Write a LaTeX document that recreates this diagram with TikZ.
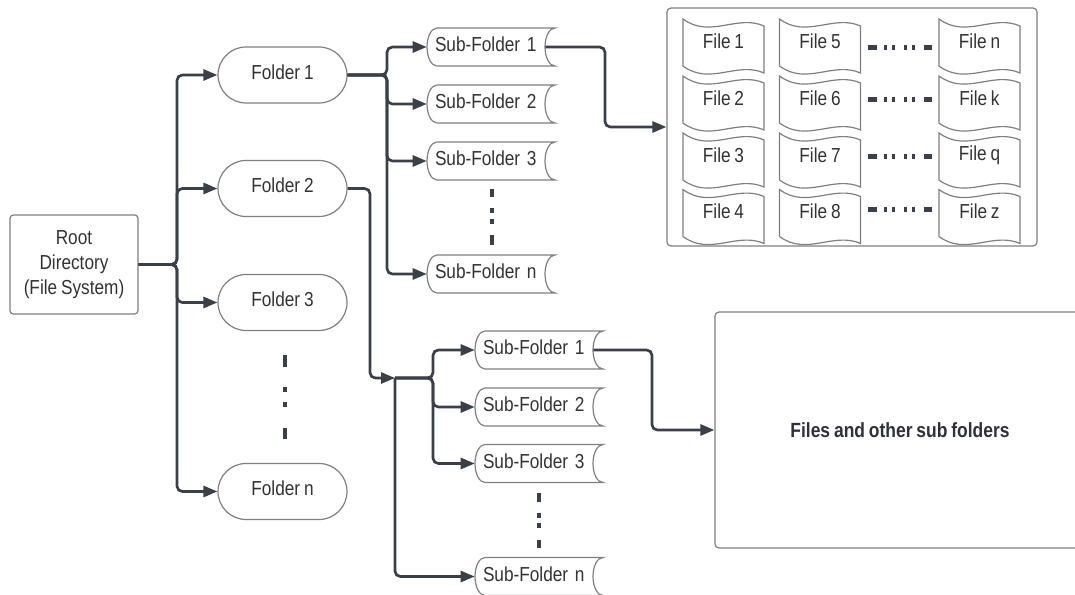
\documentclass[tikz,border=0pt]{standalone}
\usepackage{fontspec}
\setmainfont[FakeStretch=0.85,WordSpace=0.8]{Liberation Sans}
\usetikzlibrary{shapes.misc,arrows.meta,calc}
\definecolor{conn}{RGB}{58,64,74}
\definecolor{shp}{RGB}{128,128,128}
\definecolor{txt}{RGB}{51,51,51}
\definecolor{boldtxt}{RGB}{45,50,58}
\tikzset{
 shapeline/.style={draw=shp, line width=0.9pt},
 conline/.style={draw=conn, line width=2pt, rounded corners=4pt},
 arr/.style={conline, -{Triangle[length=10.5pt,width=8.25pt]}},
 folder/.style={rounded rectangle, shapeline, minimum width=96.75pt, minimum height=42pt, inner sep=0pt, text depth=4.5pt},
 rootbox/.style={rectangle, rounded corners=2.5pt, shapeline, minimum width=96pt, minimum height=74.25pt, align=center, inner sep=0pt},
 subf/.style={rectangle, inner xsep=6pt, inner ysep=0pt, text width=84pt, minimum height=28.5pt, align=left, text depth=4pt},
 filen/.style={rectangle, inner sep=0pt, minimum width=60.75pt, minimum height=35.25pt},
 bigbox/.style={rectangle, rounded corners=3pt, shapeline, minimum width=277.5pt},
 dotsline/.style={draw=conn, line width=3pt},
}
\newcommand\mksub[3]{%
 \node[subf] (#1) at (#2) {\mbox{#3}};
 \draw[shapeline] ([shift={(-54,19)}]#1.center) -- ([shift={(64,19)}]#1.center)
   arc[start angle=90,end angle=270,x radius=7.5pt,y radius=14.25pt]
   -- ([shift={(-54,-19)}]#1.center)
   arc[start angle=270,end angle=90,x radius=7.5pt,y radius=14.25pt] -- cycle;
}
\newcommand\mkfile[3]{%
 \node[filen] (#1) at (#2) {#3};
 \draw[shapeline] ([shift={(-40.5,22)}]#1.center)
   .. controls ([shift={(-13.5,2)}]#1.center) and ([shift={(13.5,27)}]#1.center) .. ([shift={(40.5,15)}]#1.center)
   -- ([shift={(40.5,-32)}]#1.center)
   .. controls ([shift={(13.5,-20)}]#1.center) and ([shift={(-13.5,-45)}]#1.center) .. ([shift={(-40.5,-25)}]#1.center)
   -- cycle;
}
\begin{document}
\begin{tikzpicture}[x=0.75pt,y=0.75pt,font=\fontsize{15.2pt}{18.75pt}\selectfont,text=txt]
\useasboundingbox (0,0) rectangle (1075,-595);
\fill[white] (0,0) rectangle (1075,-595);
\clip (0,0) rectangle (1075,-595);

% root and folders
\node[rootbox] (root) at (74,-264.5) {Root\\Directory\\(File System)};
\node[folder] (f1) at (282.5,-75) {Folder 1};
\node[folder] (f2) at (282.5,-188.5) {Folder 2};
\node[folder] (f3) at (282.5,-302.5) {Folder 3};
\node[folder] (fn) at (282.5,-491.5) {Folder n};

% upper sub-folders
\mksub{sa1}{491,-47}{Sub-Folder 1}
\mksub{sa2}{491,-104}{Sub-Folder 2}
\mksub{sa3}{491,-161}{Sub-Folder 3}
\mksub{san}{491,-274}{Sub-Folder n}

% lower sub-folders
\mksub{sb1}{539,-350}{Sub-Folder 1}
\mksub{sb2}{539,-407}{Sub-Folder 2}
\mksub{sb3}{539,-463.5}{Sub-Folder 3}
\mksub{sbn}{539,-576.5}{Sub-Folder n}

% big boxes
\node[bigbox, minimum height=178.5pt] (fbox) at (852,-127) {};
\node[bigbox, minimum height=177pt, font=\bfseries\fontsize{15.4pt}{18pt}\selectfont, text=boldtxt] (obox) at (900,-430) {Files and other sub folders};

% files
\mkfile{x1}{723.5,-41}{File 1}
\mkfile{x2}{723.5,-98}{File 2}
\mkfile{x3}{723.5,-155}{File 3}
\mkfile{x4}{723.5,-211.5}{File 4}
\mkfile{x5}{820,-41}{File 5}
\mkfile{x6}{820,-98}{File 6}
\mkfile{x7}{820,-155}{File 7}
\mkfile{x8}{820,-211.5}{File 8}
\mkfile{xn}{979.5,-41}{File n}
\mkfile{xk}{979.5,-98}{File k}
\mkfile{xq}{979.5,-155}{File q}
\mkfile{xz}{979.5,-211.5}{File z}

% junction coordinates
\coordinate (rj) at (177,-264.5);
\coordinate (k1) at (387,-75);
\coordinate (k2a) at (370,-378);
\coordinate (J) at (395,-378);
\coordinate (k2) at (433,-378);
\coordinate (k3) at (605,-127);
\coordinate (k4) at (652,-430);

% connectors root -> folders
\draw[arr] (root.east) -- (rj) |- (f1.west);
\draw[arr] (root.east) -- (rj) |- (f2.west);
\draw[arr] (root.east) -- (rj) |- (f3.west);
\draw[arr] (root.east) -- (rj) |- (fn.west);

% folder 1 -> sub-folders
\draw[arr] (f1.east) -- (k1) |- (sa1.west);
\draw[arr] (f1.east) -- (k1) |- (sa2.west);
\draw[arr] (f1.east) -- (k1) |- (sa3.west);
\draw[arr] (f1.east) -- (k1) |- (san.west);

% folder 2 -> junction -> lower sub-folders
\draw[arr] (f2.east) -| (k2a) -- (J);
\draw[arr] (J) -- (k2) |- (sb1.west);
\draw[arr] (J) -- (k2) |- (sb2.west);
\draw[arr] (J) -- (k2) |- (sb3.west);
\draw[arr] (J) |- (sbn.west);

% sub-folder 1 -> boxes
\draw[arr] ([xshift=-7.5pt]sa1.east) -| (k3) -- (fbox.west);
\draw[arr] ([xshift=-7.5pt]sb1.east) -| (k4) -- (obox.west);

% ellipsis marks
\draw[dotsline, dash pattern=on 9pt off 15pt on 3.75pt off 7.5pt on 3.75pt off 15.75pt on 8.25pt] (285,-355) -- (285,-439);
\draw[dotsline, dash pattern=on 6pt off 8.25pt on 3.75pt off 4.5pt on 3.75pt off 8.25pt on 7.5pt] (492,-189) -- (492,-245);
\draw[dotsline, dash pattern=on 6.5pt off 8.25pt on 3.75pt off 4pt on 3.75pt off 8.75pt on 6.25pt] (539,-493) -- (539,-548);
\foreach \yy in {48,100,157,210}{
 \draw[draw=conn, line width=3.75pt, dash pattern=on 6.75pt off 5.25pt on 2.25pt off 3.75pt on 2.25pt off 6.75pt on 2.25pt off 3.75pt on 2.25pt off 6.75pt on 6pt] (868,-\yy) -- (932,-\yy);
}
\end{tikzpicture}
\end{document}
